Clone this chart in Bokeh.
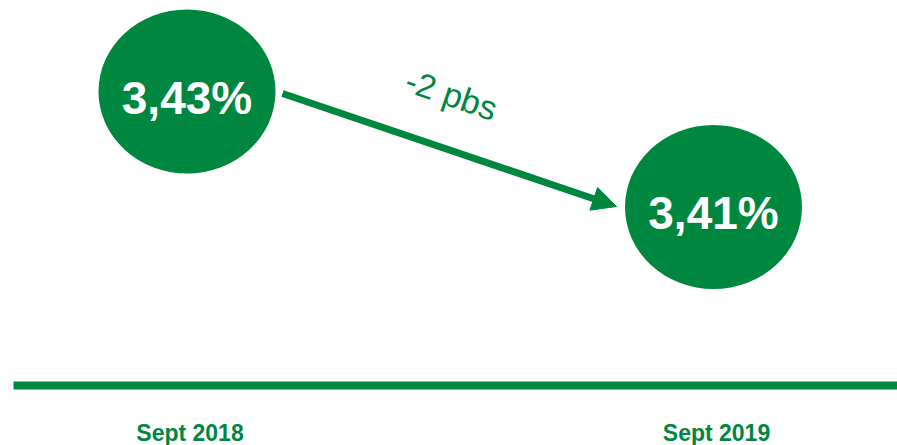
from bokeh.plotting import figure
from bokeh.models import Range1d, Arrow, NormalHead, ColumnDataSource
from bokeh.core.properties import value
from bokeh.embed import file_html
from bokeh.resources import INLINE

# ---- data ----
periods = ["Sept 2018", "Sept 2019"]
rates = [3.43, 3.41]
rate_labels = ["3,43%", "3,41%"]
change_label = "-2 pbs"

GREEN = "#00873F"
W, H = 897, 445
OFF = 0  # figure origin in the photographed page

# ---- layout anchors (screen pixels in the page) ----
cx_px = [186.5, 713.0]        # circle centres
cy_px = [91.0, 206.5]         # circle centres for the two values
kx = (cx_px[1] - cx_px[0]) / 1.0
ky = (cy_px[1] - cy_px[0]) / (rates[0] - rates[1])

x_start = 0 - (cx_px[0] - OFF) / kx
x_end = x_start + W / kx
y_end = rates[0] + (cy_px[0] - OFF) / ky
y_start = y_end - H / ky

def dx(px):
    return x_start + (px - OFF) / kx

def dy(py):
    return y_end - (py - OFF) / ky

xs = list(range(len(periods)))

p = figure(width=W, height=H, output_backend="svg", toolbar_location=None,
           x_range=Range1d(x_start, x_end), y_range=Range1d(y_start, y_end),
           min_border=0, outline_line_color=None)
p.axis.visible = False
p.grid.visible = False
p.background_fill_color = "white"
p.border_fill_color = "white"

src = ColumnDataSource(dict(x=xs, y=rates, lab=rate_labels, per=periods))

# circles
p.ellipse(x="x", y="y", width=177, height=164, width_units="screen",
          height_units="screen", source=src, fill_color=GREEN, line_color=None)

# values in circles
p.text(x="x", y="y", text="lab", source=src, text_color="white",
       text_font=value("Liberation Sans"), text_font_style="bold",
       text_font_size="46px", text_align="center", text_baseline="top",
       y_offset=-20)

# arrow
p.add_layout(Arrow(x_start=dx(282), y_start=dy(93), x_end=dx(616), y_end=dy(206),
                   line_color=GREEN, line_width=7,
                   end=NormalHead(size=24, fill_color=GREEN, line_color=GREEN, line_width=1)))

# change label
p.text(x=[dx(451)], y=[dy(94)], text=[change_label], text_color=GREEN,
       text_font=value("Liberation Sans"), text_font_size="34px",
       text_align="center", text_baseline="middle", angle=-0.33)

# baseline
p.segment(x0=[dx(13)], y0=[dy(385)], x1=[x_end], y1=[dy(385)],
          line_color=GREEN, line_width=8)

# period labels
p.text(x="x", y=dy(419), text="per", source=src, text_color=GREEN,
       text_font=value("Liberation Sans"), text_font_style="bold",
       text_font_size="23px", text_align="center", text_baseline="top",
       x_offset=3)

open("out.html", "w").write(file_html(p, INLINE))
